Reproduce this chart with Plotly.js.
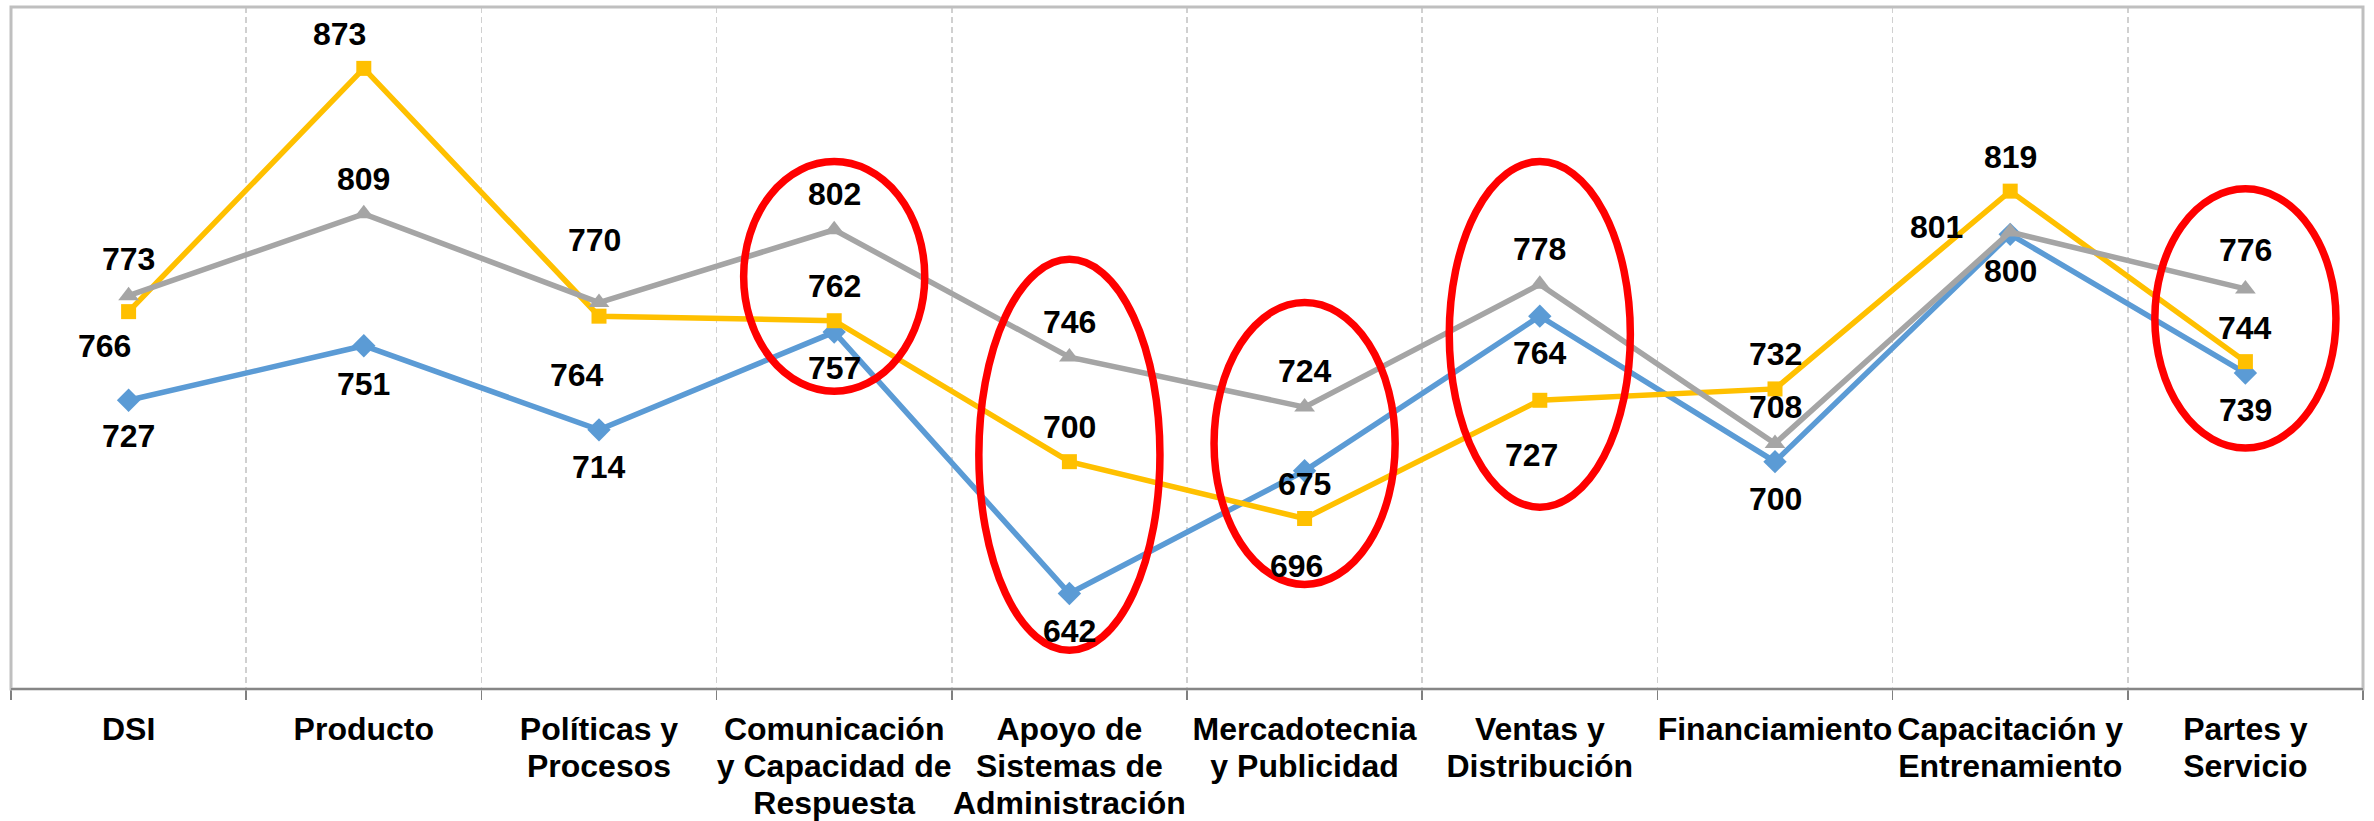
<!DOCTYPE html>
<html>
<head>
<meta charset="utf-8">
<script src="https://cdn.plot.ly/plotly-3.0.1.min.js"></script>
<style>
  html, body { margin: 0; padding: 0; background: #ffffff; }
  #chart { width: 2374px; height: 821px; }
</style>
</head>
<body>
<div id="chart"></div>
<script>
// ---------- DATA ----------
const categories = [
  "DSI",
  "Producto",
  "Políticas y<br>Procesos",
  "Comunicación<br>y Capacidad de<br>Respuesta",
  "Apoyo de<br>Sistemas de<br>Administración",
  "Mercadotecnia<br>y Publicidad",
  "Ventas y<br>Distribución",
  "Financiamiento",
  "Capacitación y<br>Entrenamiento",
  "Partes y<br>Servicio"
];
const seriesBlue   = [727, 751, 714, 757, 642, 696, 764, 700, 800, 739];
const seriesYellow = [766, 873, 764, 762, 700, 675, 727, 732, 819, 744];
const seriesGray   = [773, 809, 770, 802, 746, 724, 778, 708, 801, 776];

// highlighted categories (red ellipses): category and value span covered
const highlightCategories = [
  "Comunicación<br>y Capacidad de<br>Respuesta",
  "Apoyo de<br>Sistemas de<br>Administración",
  "Mercadotecnia<br>y Publicidad",
  "Ventas y<br>Distribución",
  "Partes y<br>Servicio"
];
const highlightTop    = [832, 789, 770, 832, 820];
const highlightBottom = [731, 617, 646, 680, 706];

// ---------- LABEL PLACEMENT (pixel offsets, style only) ----------
const shiftYBlue   = [-36, -38, -37, -36, -37, -95, -37, -37, -37, -37];
const shiftXBlue   = [0, 0, 0, 0, 0, -8, 0, 0, 0, 0];
const shiftYYellow = [-34, 34, -59, 35, 35, 35, -55, 35, 34, 34];
const shiftXYellow = [-24, -24, -22, 0, 0, 0, -8, 0, 0, 0];
const shiftYGray   = [37, 35, 63, 36, 35, 36, 35, 36, 5, 39];
const shiftXGray   = [0, 0, -5, 0, 0, 0, 0, 0, -74, 0];

// ---------- STYLE ----------
const FONT = "Liberation Sans, Arial, Helvetica, sans-serif";
const cBlue = "#5B9BD5", cYellow = "#FFC000", cGray = "#A5A5A5";
const TICK_LINE_FACTOR = 1.156 / 1.3; // tighter line spacing of category labels

function lineTrace(vals, color, symbol, size) {
  return {
    x: categories, y: vals, type: "scatter", mode: "lines+markers",
    line: { color: color, width: 5.5 },
    marker: { color: color, symbol: symbol, size: size, line: { width: 0 } },
    cliponaxis: false, hoverinfo: "skip"
  };
}

const traces = [
  lineTrace(seriesBlue, cBlue, "diamond", 18),
  lineTrace(seriesYellow, cYellow, "square", 15),
  lineTrace(seriesGray, cGray, "triangle-up", 18)
];

function labels(vals, sx, sy) {
  return vals.map((v, i) => ({
    x: categories[i], y: v, xref: "x", yref: "y",
    text: String(v), showarrow: false,
    xanchor: "center", yanchor: "middle",
    xshift: sx[i], yshift: sy[i],
    font: { family: FONT, size: 32, color: "#000000", weight: "bold" }
  }));
}

const annotations = []
  .concat(labels(seriesBlue, shiftXBlue, shiftYBlue))
  .concat(labels(seriesYellow, shiftXYellow, shiftYYellow))
  .concat(labels(seriesGray, shiftXGray, shiftYGray));

const halfW = 0.385;
const shapes = [
  { type: "rect", xref: "paper", yref: "paper", x0: 0, x1: 1, y0: 0, y1: 1,
    line: { color: "#BFBFBF", width: 3 }, layer: "above" },
  { type: "line", xref: "paper", yref: "paper", x0: 0, x1: 1, y0: 0, y1: 0,
    line: { color: "#868686", width: 2 }, layer: "above" }
];
highlightCategories.forEach((c, k) => {
  const idx = categories.indexOf(c);
  shapes.push({
    type: "circle", xref: "x", yref: "y",
    x0: idx - halfW, x1: idx + halfW,
    y0: highlightBottom[k], y1: highlightTop[k],
    line: { color: "#FF0000", width: 7.5 }, layer: "above"
  });
});

const layout = {
  width: 2374, height: 821,
  margin: { l: 11, r: 11, t: 7, b: 132, pad: 0 },
  paper_bgcolor: "#ffffff", plot_bgcolor: "#ffffff",
  showlegend: false,
  font: { family: FONT, color: "#000000" },
  xaxis: {
    type: "category", range: [-0.5, 9.5],
    tickson: "boundaries", ticks: "outside", ticklen: 10,
    tickcolor: "#808080", tickwidth: 1.5,
    showgrid: true, gridcolor: "#D0D0D0", gridwidth: 1.5, griddash: "6px,4px",
    showline: false, zeroline: false,
    tickangle: 0, automargin: false,
    tickfont: { family: FONT, size: 32, color: "#000000", weight: "bold" },
    ticklabelstandoff: 18,
    fixedrange: true
  },
  yaxis: {
    range: [600, 900], showgrid: false, showticklabels: false,
    zeroline: false, showline: false, ticks: "", fixedrange: true
  },
  shapes: shapes,
  annotations: annotations
};

Plotly.newPlot("chart", traces, layout, { displayModeBar: false, staticPlot: true })
  .then(function (gd) {
    // tighten the line spacing of the multi-line category labels
    gd.querySelectorAll(".xtick text tspan.line").forEach(function (t) {
      const dy = t.getAttribute("dy");
      if (dy && dy.indexOf("em") > 0) {
        const v = parseFloat(dy);
        if (v) t.setAttribute("dy", (v * TICK_LINE_FACTOR).toFixed(4) + "em");
      }
    });
  });
</script>
</body>
</html>
